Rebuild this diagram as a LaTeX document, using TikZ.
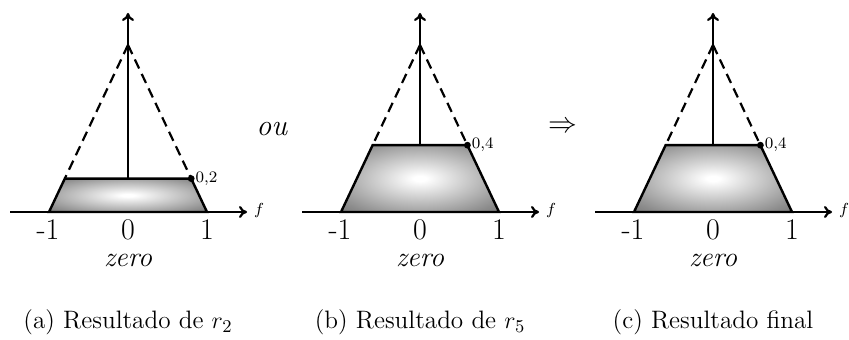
\documentclass[tikz,border=0pt]{standalone}
\usetikzlibrary{arrows.meta}
\pgfdeclareradialshading{trapshade}{\pgfpoint{0bp}{0bp}}{color(0bp)=(white); color(2bp)=(white); color(30bp)=(black!45); color(50bp)=(black!70); color(71bp)=(black!90)}
\begin{document}
\begin{tikzpicture}[x=0.5pt,y=-0.5pt,
  axis/.style={line width=1.1pt,-{To[length=4pt,width=6pt]}},
  trap/.style={line width=1.2pt,shading=trapshade},
  guide/.style={line width=1.1pt,dash pattern=on 5pt off 3pt},
  big/.style={font=\fontsize{15}{18}\selectfont,inner sep=0pt},
  word/.style={font=\fontsize{14}{17}\selectfont,inner sep=0pt},
  small/.style={font=\footnotesize,inner sep=0pt},
  captext/.style={font=\fontsize{12.6}{15}\selectfont,inner sep=0pt,anchor=base}]
\useasboundingbox (0,0) rectangle (849,340);
\foreach \cx/\lv/\lab/\nm in {128/0.2/{0{,}2}/a, 420/0.4/{0{,}4}/b, 713/0.4/{0{,}4}/c}{
  \pgfmathsetmacro\hh{167*\lv}
  \pgfmathsetmacro\ww{79*(1-\lv)}
  \begin{scope}[shift={(\cx,212)}]
    \coordinate (L\nm) at (-118,0);
    \coordinate (R\nm) at (119,0);
    \coordinate (apex\nm) at (0,-167);
    \coordinate (top\nm) at (0,-199);
    \coordinate (bl\nm) at (-79,0);
    \coordinate (br\nm) at (79,0);
    \coordinate (tl\nm) at (-\ww,-\hh);
    \coordinate (tr\nm) at (\ww,-\hh);
    \coordinate (tc\nm) at (0,-\hh);
    \draw[guide] (apex\nm) -- (tl\nm);
    \draw[guide] (apex\nm) -- (tr\nm);
    \draw[trap] (bl\nm) -- (tl\nm) -- (tr\nm) -- (br\nm) -- cycle;
    \draw[axis] (L\nm) -- (R\nm);
    \draw[axis] (tc\nm) -- (top\nm);
    \fill (tr\nm) circle (1.7pt);
    \node[small,anchor=west,xshift=2pt] (lv\nm) at (tr\nm) {$\lab$};
    \node[small] (f\nm) at (131,-1) {$f$};
    \node[big,anchor=base] (m\nm) at (-80,28) {-1};
    \node[big,anchor=base] (z\nm) at (0,28) {0};
    \node[big,anchor=base] (p\nm) at (79,28) {1};
    \node[word,anchor=base] (zero\nm) at (0,55) {\textit{zero}};
  \end{scope}
}
\node[big,anchor=base] (ou) at (272,136) {\textit{ou}};
\node[big] (impl) at (563,127) {$\Rightarrow$};
\node[captext] (capa) at (128,329) {(a) Resultado de $r_2$};
\node[captext] (capb) at (420,329) {(b) Resultado de $r_5$};
\node[captext] (capc) at (713,329) {(c) Resultado final};
\end{tikzpicture}
\end{document}
